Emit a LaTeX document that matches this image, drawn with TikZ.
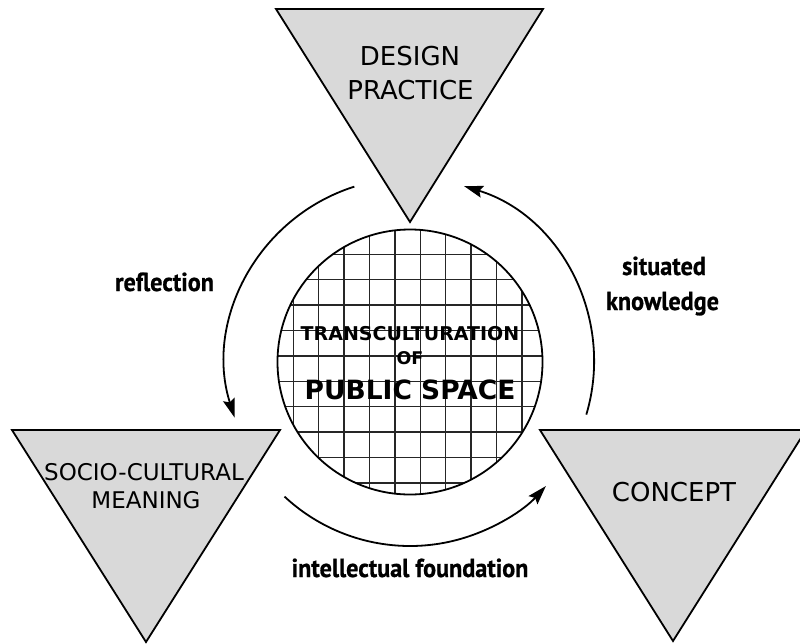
\documentclass[tikz,border=0pt]{standalone}
\usepackage{fontspec}
\setmainfont{DejaVu Sans}
\newfontfamily\labfont[FakeStretch=0.93, BoldFeatures={FakeBold=0.8}]{PT Sans}
\usetikzlibrary{arrows.meta}
\begin{document}
\begin{tikzpicture}[x=1pt,y=-1pt,
  every node/.style={inner sep=0pt, anchor=base},
  tri/.style={draw=black, line width=1.8pt, fill=black!15, line join=miter},
  tritext/.style={font=\fontsize{26pt}{34pt}\selectfont},
  tritextsmall/.style={font=\fontsize{23pt}{28pt}\selectfont},
  cycle arrow/.style={line width=1.8pt, -{Stealth[length=19pt,width=12pt,inset=3pt]}},
  lab/.style={font=\labfont\bfseries\fontsize{26pt}{32pt}\selectfont},
  gridline/.style={draw=black!85, line width=1.4pt},
  core/.style={font=\bfseries\fontsize{#1}{#1}\selectfont}]
\useasboundingbox (0,0) rectangle (800,643);

% centre of the cycle
\coordinate (C) at (410,362);

% three inverted triangles
\coordinate (dp1) at (276,9);
\coordinate (dp2) at (543,9);
\coordinate (dp3) at (410,222);
\draw[tri] (dp1) -- (dp2) -- (dp3) -- cycle;

\coordinate (sc1) at (12,430);
\coordinate (sc2) at (280,430);
\coordinate (sc3) at (146,642);
\draw[tri] (sc1) -- (sc2) -- (sc3) -- cycle;

\coordinate (cp1) at (540,430);
\coordinate (cp2) at (806,430);
\coordinate (cp3) at (673,641);
\draw[tri] (cp1) -- (cp2) -- (cp3) -- cycle;

\node[tritext] (design) at (410,65) {DESIGN};
\node[tritext] (practice) at (410.5,99) {PRACTICE};
\node[tritextsmall] (socio) at (144,480) {SOCIO-CULTURAL};
\node[tritextsmall] (meaning) at (146,508) {MEANING};
\node[tritext] (concept) at (674,501) {CONCEPT};

% gridded disc in the middle, cells of 25.4
\begin{scope}
  \clip (C) circle[radius=132.5];
  \foreach \i in {-2,...,11} {
    \pgfmathsetmacro{\gx}{293.3+25.4*\i}
    \pgfmathsetmacro{\gy}{254.3+25.4*\i}
    \draw[gridline] (\gx,200) -- (\gx,520);
    \draw[gridline] (250,\gy) -- (570,\gy);
  }
\end{scope}
\draw[line width=1.8pt] (C) circle[radius=132.5];

\node[core=19pt] (transc) at (410,340) {TRANSCULTURATION};
\node[core=17.5pt] (of) at (410,364) {OF};
\node[core=26.5pt] (public) at (410,399) {PUBLIC SPACE};

% circular arrows between the triangles
\path (C) ++(-107.6:184) coordinate (refl-start);
\draw[cycle arrow] (refl-start) arc[start angle=-107.6, end angle=-197.6, radius=184];

\path (C) ++(-227:184) coordinate (found-start);
\draw[cycle arrow] (found-start) arc[start angle=-227, end angle=-317.6, radius=184];

\path (C) ++(16.6:184) coordinate (sit-start);
\draw[cycle arrow] (sit-start) arc[start angle=16.6, end angle=-72.9, radius=184];

% arrow labels
\node[lab] (reflection) at (164.5,291) {reflection};
\node[lab] (situated) at (664,275) {situated};
\node[lab] (knowledge) at (662.5,310) {knowledge};
\node[lab] (foundation) at (410,577) {intellectual foundation};
\end{tikzpicture}
\end{document}
